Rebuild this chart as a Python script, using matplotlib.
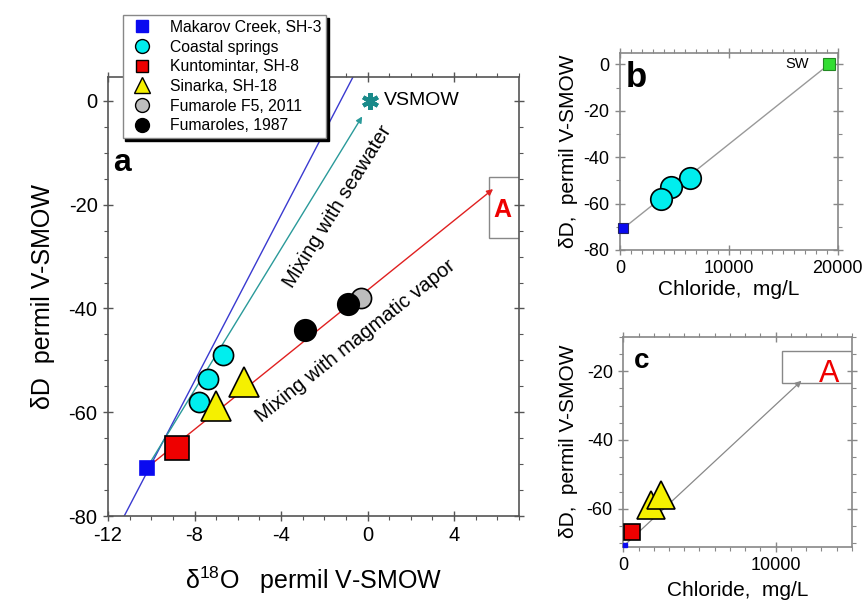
"""Isotope plot: d18O-dD mixing (a) and dD vs chloride (b, c)."""
import numpy as np
import matplotlib
matplotlib.use("Agg")
import matplotlib.pyplot as plt
from matplotlib.lines import Line2D
from matplotlib.patches import Rectangle
from matplotlib.ticker import MultipleLocator

plt.rcParams['font.family'] = ['Liberation Sans', 'DejaVu Sans']
plt.rcParams['axes.unicode_minus'] = False
plt.rcParams['mathtext.fontset'] = 'custom'
plt.rcParams['mathtext.rm'] = 'Liberation Sans'

# ---- panel a: d18O vs dD (permil V-SMOW) ----
makarov_o18 = [-10.2]
makarov_dd = [-70.7]
kunto_o18 = [-8.8]
kunto_dd = [-66.8]
coastal_o18 = [-6.7, -7.4, -7.8]
coastal_dd = [-48.9, -53.6, -58.1]
sinarka_o18 = [-5.7, -7.0]
sinarka_dd = [-54.1, -58.8]
fum87_o18 = [-2.9, -0.9]
fum87_dd = [-44.1, -39.1]
f5_o18 = [-0.3]
f5_dd = [-38.0]
vsmow_o18, vsmow_dd = 0.1, 0.0
seawater_tip = (-0.25, -3.0)        # arrow head near VSMOW
magmatic_tip = (5.8, -17.0)         # arrow head at end-member "A"
gmwl_o18 = [-11.25, -0.6]           # meteoric water line
gmwl_dd = [-80.0, 5.2]

# ---- panel b: chloride (mg/L) vs dD ----
b_makarov_cl, b_makarov_dd = [300], [-70.7]
b_sw_cl, b_sw_dd = [19200], [0.0]
b_coastal_cl = [6400, 4700, 3800]
b_coastal_dd = [-48.9, -53.0, -58.1]

# ---- panel c: chloride (mg/L) vs dD ----
c_makarov_cl, c_makarov_dd = [100], [-70.5]
c_kunto_cl, c_kunto_dd = [550], [-66.6]
c_sinarka_cl = [2450, 1830]
c_sinarka_dd = [-55.9, -58.8]
c_tip = (11700, -22.8)

legend_labels = ["Makarov Creek, SH-3", "Coastal springs", "Kuntomintar, SH-8",
                 "Sinarka, SH-18", "Fumarole F5, 2011", "Fumaroles, 1987"]

BLUE = "#0a0af0"
CYAN = "#00eeee"
RED = "#ee0000"
YEL = "#f5f000"
GREY = "#bdbdbd"
SPINE = "#555555"


def style_axes(ax, xmaj, xmin, ymaj, ymin, spine=SPINE, lsize=14):
    ax.xaxis.set_major_locator(MultipleLocator(xmaj))
    ax.xaxis.set_minor_locator(MultipleLocator(xmin))
    ax.yaxis.set_major_locator(MultipleLocator(ymaj))
    ax.yaxis.set_minor_locator(MultipleLocator(ymin))
    ax.tick_params(which="both", top=True, right=True, color=spine,
                   labelsize=lsize, pad=4)
    ax.tick_params(which="major", direction="inout", length=7, width=1)
    ax.tick_params(which="minor", direction="out", length=3, width=0.8)
    for s in ax.spines.values():
        s.set_color(spine)
        s.set_linewidth(1.2)


def arrow(ax, start, end, color, lw=1.0):
    ax.annotate("", xy=end, xytext=start,
                arrowprops=dict(arrowstyle="-|>", color=color, lw=lw,
                                mutation_scale=9, shrinkA=0, shrinkB=0),
                zorder=2)


fig = plt.figure(figsize=(8.64, 6.05), dpi=100)

# ================= panel a =================
ax = fig.add_axes([0.125, 0.1471, 0.4757, 0.7256])
ax.set_xlim(-12, 7)
ax.set_ylim(-80, 4.6)
style_axes(ax, 4, 1, 20, 5, lsize=14.5)
ax.set_xticks([-12, -8, -4, 0, 4])

ax.plot(gmwl_o18, gmwl_dd, color="#3a3ad0", lw=1.0, zorder=1)
arrow(ax, (makarov_o18[0], makarov_dd[0]), seawater_tip, "#2a9a9a")
arrow(ax, (makarov_o18[0], makarov_dd[0]), magmatic_tip, "#e02020")

ax.add_patch(Rectangle((5.6, -26.4), 3.0, 11.8, facecolor="white",
                       edgecolor="#888888", lw=1.0, zorder=1.5))
ax.text(6.25, -21, "A", color=RED, fontsize=18, fontweight="bold",
        ha="center", va="center", zorder=3)

mk = dict(linestyle="none", markeredgecolor="black", markeredgewidth=1.2, zorder=4)
ax.plot(makarov_o18, makarov_dd, marker="s", ms=9.5, color=BLUE,
        **{**mk, "markeredgecolor": BLUE})
ax.plot(kunto_o18, kunto_dd, marker="s", ms=17, color=RED, **mk)
ax.plot(coastal_o18, coastal_dd, marker="o", ms=14.5, color=CYAN, **mk)
ax.plot(sinarka_o18, sinarka_dd, marker="^", ms=21, color=YEL, **mk)
ax.plot(f5_o18, f5_dd, marker="o", ms=14.5, color=GREY, **mk)
ax.plot(fum87_o18, fum87_dd, marker="o", ms=15.5, color="black", **mk)

ax.plot([vsmow_o18], [vsmow_dd], marker=(6, 2, 0), ms=12, color="#1a8a8a",
        markeredgecolor="#1a8a8a", mew=3, linestyle="none", zorder=4)
ax.text(0.75, 0, "VSMOW", fontsize=14, va="center", ha="left")

ax.text(-1.4, -20.4, "Mixing with seawater", fontsize=14.5, rotation=58,
        ha="center", va="center", rotation_mode="anchor")
ax.text(-0.55, -46.3, "Mixing with magmatic vapor", fontsize=14.5,
        rotation=38.5, ha="center", va="center", rotation_mode="anchor")
ax.text(-11.35, -12, "a", fontsize=23, fontweight="bold", ha="center",
        va="center")

ax.set_xlabel("δ$^{18}$O   permil V-SMOW", fontsize=18, labelpad=14)
ax.set_ylabel("δD  permil V-SMOW", fontsize=18, labelpad=10)

# legend (proxy handles with uniform small markers)
proxy = [
    Line2D([], [], ls="none", marker="s", ms=9, color=BLUE, mec=BLUE),
    Line2D([], [], ls="none", marker="o", ms=10, color=CYAN, mec="black", mew=1),
    Line2D([], [], ls="none", marker="s", ms=9, color=RED, mec="black", mew=1),
    Line2D([], [], ls="none", marker="^", ms=11, color=YEL, mec="black", mew=1),
    Line2D([], [], ls="none", marker="o", ms=10, color=GREY, mec="black", mew=1),
    Line2D([], [], ls="none", marker="o", ms=10, color="black", mec="black"),
]
leg = fig.legend(proxy, legend_labels, loc="upper left",
                 bbox_to_anchor=(0.142, 0.975), fontsize=11.3, frameon=True,
                 fancybox=False, framealpha=1, edgecolor="#888888",
                 shadow={"color": "black", "alpha": 1}, borderpad=0.3,
                 labelspacing=0.3, handletextpad=0.9, handlelength=1.8,
                 borderaxespad=0)
leg.get_frame().set_linewidth(1.0)
leg.set_zorder(10)

# ================= panel b =================
bx = fig.add_axes([0.7176, 0.5868, 0.252, 0.3261])
bx.set_xlim(0, 20000)
bx.set_ylim(-80, 5)
style_axes(bx, 10000, 1000, 20, 10, spine="#888888", lsize=13)
bx.plot([b_makarov_cl[0], b_sw_cl[0]], [b_makarov_dd[0], b_sw_dd[0]],
        color="#999999", lw=1.0, zorder=1)
bx.plot(b_coastal_cl, b_coastal_dd, marker="o", ms=15.5, color=CYAN, **mk)
bx.plot(b_makarov_cl, b_makarov_dd, marker="s", ms=7.5, color=BLUE,
        linestyle="none", mec="#222266", mew=0.8, zorder=4, clip_on=False)
bx.plot(b_sw_cl, b_sw_dd, marker="s", ms=8.5, color="#33dd33",
        linestyle="none", mec="#228822", mew=0.8, zorder=4, clip_on=False)
bx.text(16300, 0, "SW", fontsize=10.5, ha="center", va="center")
bx.text(1500, -5.5, "b", fontsize=25, fontweight="bold", ha="center",
        va="center")
bx.set_xlabel("Chloride,  mg/L", fontsize=15, labelpad=2)
bx.set_ylabel("δD,  permil V-SMOW", fontsize=15, labelpad=4)

# ================= panel c =================
cx = fig.add_axes([0.7214, 0.0964, 0.2644, 0.3471])
cx.set_xlim(0, 15000)
cx.set_ylim(-71, -10)
style_axes(cx, 10000, 1000, 20, 5, spine="#888888", lsize=13)
cx.set_yticks([-20, -40, -60])
cx.add_patch(Rectangle((10450, -23.4), 4600, 9.2, facecolor="white",
                       edgecolor="#888888", lw=1.0, zorder=1.5))
cx.text(13500, -20.8, "A", color=RED, fontsize=22, ha="center", va="center",
        zorder=3)
arrow(cx, (c_makarov_cl[0], c_makarov_dd[0]), c_tip, "#888888", lw=0.9)
cx.plot(c_kunto_cl, c_kunto_dd, marker="s", ms=11.5, color=RED, **mk)
cx.plot(c_sinarka_cl[::-1], c_sinarka_dd[::-1], marker="^", ms=20, color=YEL, **mk)
cx.plot(c_makarov_cl, c_makarov_dd, marker="s", ms=2.5, color=BLUE,
        linestyle="none", mec=BLUE, zorder=5, clip_on=False)
cx.text(1200, -17, "c", fontsize=20, fontweight="bold", ha="center",
        va="center")
cx.set_xlabel("Chloride,  mg/L", fontsize=15, labelpad=5)
cx.set_ylabel("δD,  permil V-SMOW", fontsize=15, labelpad=6)

fig.savefig("out.png", dpi=100)
